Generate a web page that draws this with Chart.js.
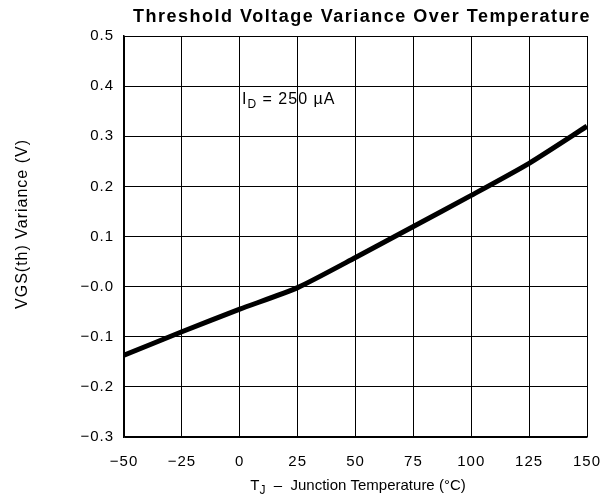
<!DOCTYPE html>
<html>
<head>
<meta charset="utf-8">
<script src="https://cdn.jsdelivr.net/npm/chart.js@4/dist/chart.umd.min.js"></script>
<style>
  html, body { margin: 0; padding: 0; background: #fff; }
  #wrap { width: 603px; height: 504px; }
</style>
</head>
<body>
<div id="wrap"><canvas id="chart" width="603" height="504"></canvas></div>
<script>
// temperature (°C) and VGS(th) variance (V)
const temps = [-50, -25, 0, 25, 50, 75, 100, 125, 150];
const variance = [-0.137, -0.09, -0.045, -0.002, 0.058, 0.12, 0.182, 0.246, 0.32];
const xTicks = [-50, -25, 0, 25, 50, 75, 100, 125, 150];
const yTicks = [-0.3, -0.2, -0.1, 0, 0.1, 0.2, 0.3, 0.4, 0.5];

const FONT = 'Liberation Sans, Arial, Helvetica, sans-serif';

function signed(v, digits) {
  const s = Math.abs(v).toFixed(digits);
  return v < 0 ? '\u2212' + s : s;
}

// wider glyph spacing like the original artwork
const spacingPlugin = {
  id: 'spacing',
  beforeInit(chart) { chart.ctx.letterSpacing = '1px'; },
  beforeUpdate(chart) { chart.ctx.letterSpacing = '1px'; },
  beforeDraw(chart) { chart.ctx.letterSpacing = '1px'; }
};

// title, y title, subscripted labels
const textPlugin = {
  id: 'textPlugin',
  afterDraw(chart) {
    const ctx = chart.ctx;
    const area = chart.chartArea;
    ctx.save();
    ctx.fillStyle = '#000';

    ctx.letterSpacing = '1.5px';
    ctx.font = 'bold 18px ' + FONT;
    ctx.textAlign = 'center';
    ctx.textBaseline = 'middle';
    ctx.fillText('Threshold Voltage Variance Over Temperature', 362, 17);

    ctx.letterSpacing = '1px';
    ctx.font = '16px ' + FONT;
    ctx.save();
    ctx.translate(23, 224);
    ctx.rotate(-Math.PI / 2);
    ctx.fillText('VGS(th) Variance (V)', 0, 0);
    ctx.restore();

    function sub(parts, x, y, align, size) {
      const f = p => (p.sub ? Math.round(size * 0.78) : size) + 'px ' + FONT;
      let total = 0;
      parts.forEach(p => { ctx.font = f(p); total += ctx.measureText(p.t).width; });
      let cx = align === 'center' ? x - total / 2 : x;
      ctx.textAlign = 'left';
      parts.forEach(p => {
        ctx.font = f(p);
        ctx.fillText(p.t, cx, p.sub ? y + 5 : y);
        cx += ctx.measureText(p.t).width;
      });
    }
    ctx.letterSpacing = '0px';
    sub([{t: 'T'}, {t: 'J', sub: true}, {t: '  \u2013  Junction Temperature (\u00B0C)'}], 358, 486, 'center', 15);
    ctx.letterSpacing = '1px';
    sub([{t: 'I'}, {t: 'D', sub: true}, {t: ' = 250 \u00B5A'}], 242, 100, 'left', 16);
    ctx.restore();
  }
};

new Chart(document.getElementById('chart'), {
  type: 'scatter',
  data: {
    datasets: [{
      data: temps.map((t, i) => ({ x: t, y: variance[i] })),
      showLine: true,
      borderColor: '#000',
      borderWidth: 5,
      pointRadius: 0,
      tension: 0.2,
      fill: false
    }]
  },
  options: {
    responsive: false,
    animation: false,
    layout: { padding: { top: 36, right: 16, left: 0, bottom: 0 } },
    plugins: { legend: { display: false }, tooltip: { enabled: false }, title: { display: false } },
    scales: {
      x: {
        type: 'linear', min: -50, max: 150,
        afterBuildTicks(s) { s.ticks = xTicks.map(v => ({ value: v })); },
        afterFit(s) { s.height = 67; s.paddingLeft = 0; s.paddingRight = 0; },
        grid: { color: '#000', lineWidth: 1, drawTicks: false },
        border: { color: '#000', width: 1.5 },
        ticks: {
          color: '#000', font: { family: FONT, size: 15 }, padding: 16, maxRotation: 0,
          callback: v => signed(v, 0)
        }
      },
      y: {
        type: 'linear', min: -0.3, max: 0.5,
        afterBuildTicks(s) { s.ticks = yTicks.map(v => ({ value: v })); },
        afterFit(s) { s.width = 124; s.paddingTop = 0; s.paddingBottom = 0; },
        grid: { color: '#000', lineWidth: 1, drawTicks: false },
        border: { color: '#000', width: 1.5 },
        ticks: {
          color: '#000', font: { family: FONT, size: 15 }, padding: 10,
          callback(v) {
            const r = Math.round(v * 10) / 10;
            if (r === 0) return '\u22120.0';
            return signed(r, 1);
          }
        }
      }
    }
  },
  plugins: [spacingPlugin, textPlugin]
});
</script>
</body>
</html>
